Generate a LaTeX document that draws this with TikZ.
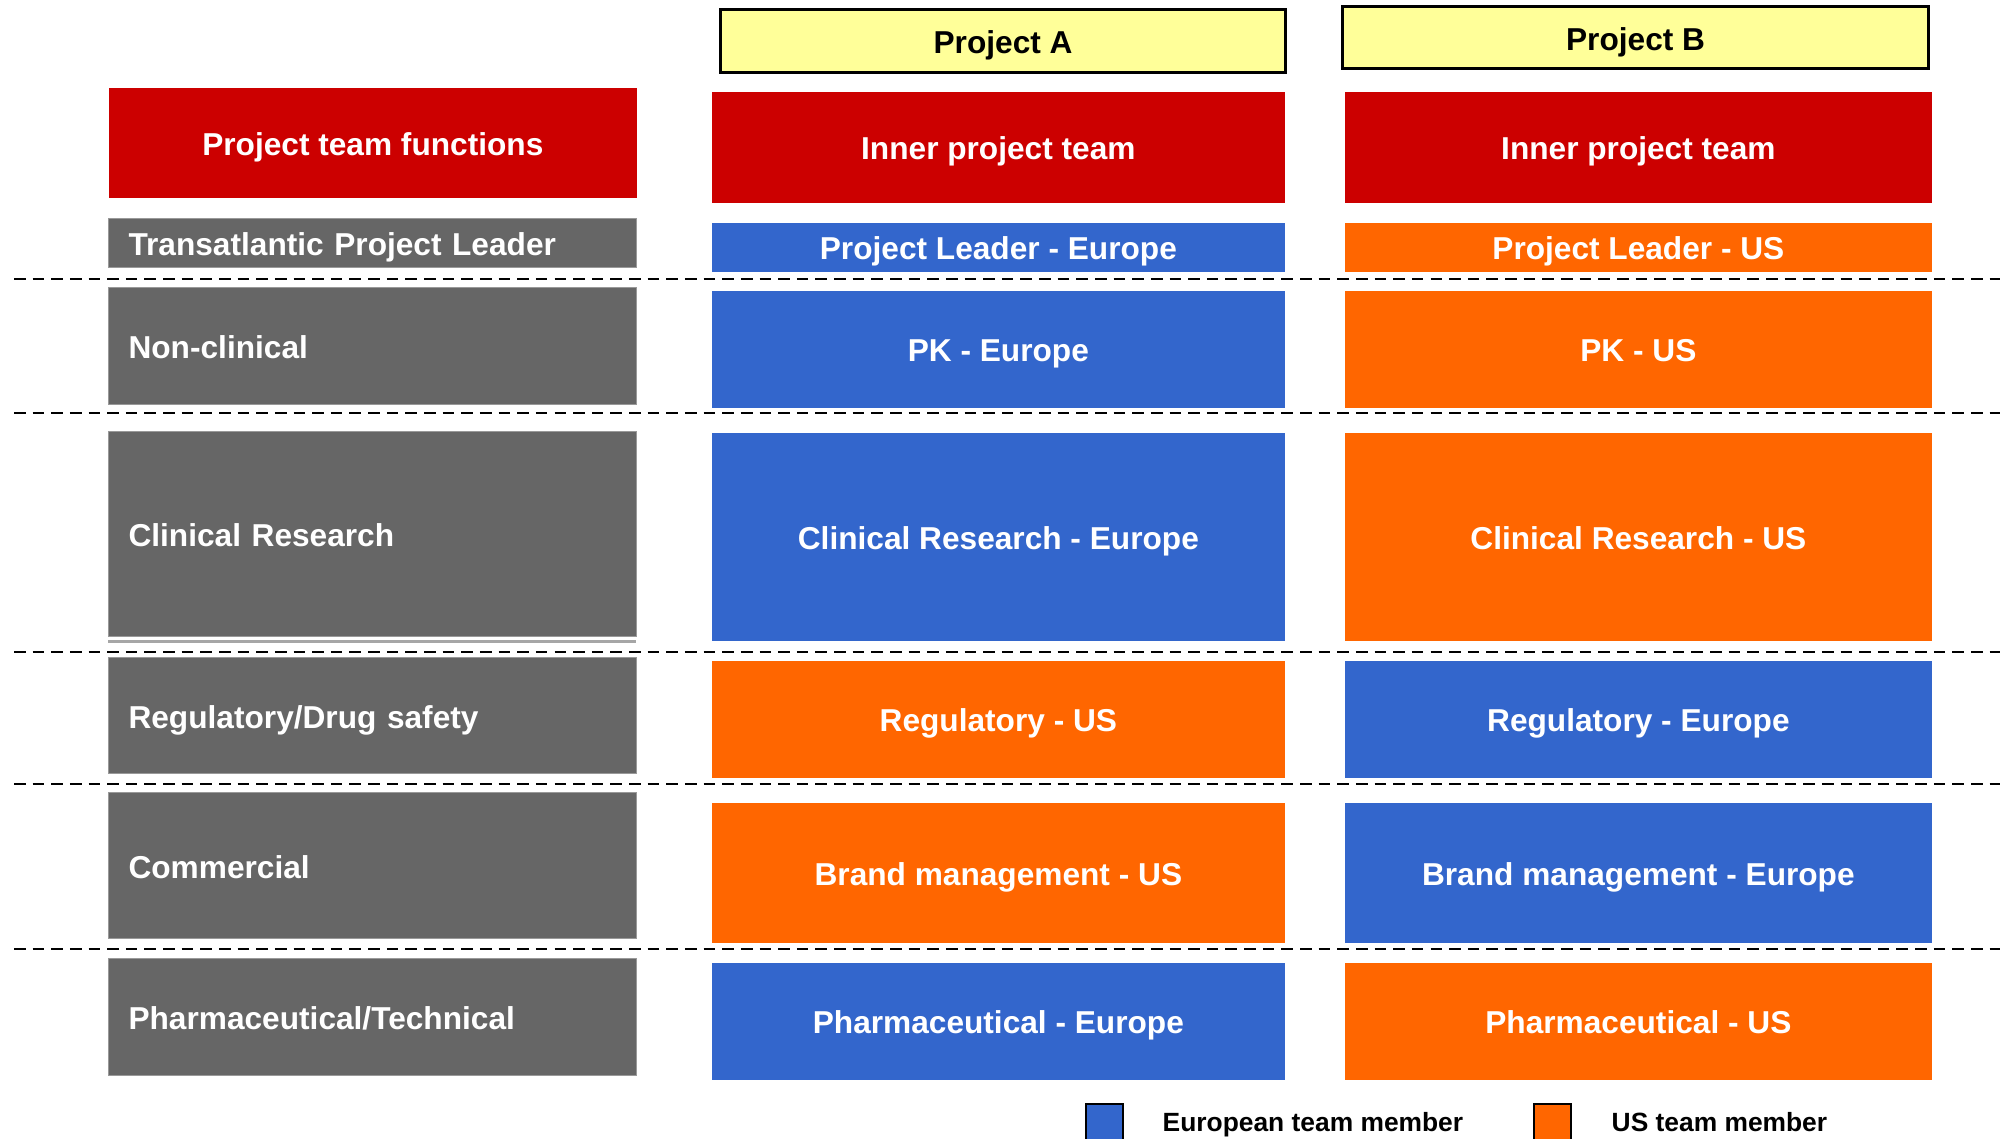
\documentclass[tikz,border=0pt]{standalone}
\usepackage{fontspec}
\setmainfont{Liberation Sans}
\usetikzlibrary{positioning}

\definecolor{fnred}{HTML}{CC0000}
\definecolor{fngray}{HTML}{666666}
\definecolor{eublue}{HTML}{3366CC}
\definecolor{usorange}{HTML}{FF6600}
\definecolor{projyellow}{HTML}{FFFF99}

\tikzset{
  cell/.style={rectangle, inner sep=0pt, anchor=north west, text=white,
    text height=0.9em, text depth=0.18em,
    font=\bfseries\fontsize{9}{11}\selectfont},
  fn/.style={cell, fill=fngray, draw=black!40, line width=0.3pt,
    inner xsep=0.2cm, text width=4.88cm, align=left},
  hd/.style={cell, fill=fnred, align=center},
  eu/.style={cell, fill=eublue, align=center},
  us/.style={cell, fill=usorange, align=center},
  colA/.style={minimum width=5.73cm},
  colB/.style={minimum width=5.87cm},
  proj/.style={cell, fill=projyellow, draw=black, line width=0.8pt, text=black},
  sep/.style={dashed, line width=0.8pt, dash pattern=on 3.3pt off 2pt},
  keybox/.style={rectangle, draw=black, line width=0.6pt, minimum width=0.37cm,
    minimum height=0.40cm, inner sep=0pt, anchor=north west},
  keytext/.style={anchor=base west, inner sep=0pt, font=\bfseries\fontsize{7.5}{9}\selectfont}
}

\begin{document}
\begin{tikzpicture}[x=0.01cm,y=-0.01cm]
   \useasboundingbox (0,0) rectangle (2006,1138);

   % row separators
   \foreach \y in {279,413,652,784,949} {
    \draw[sep] (14,\y) -- (2000,\y);
   }

   % project headers
   \node[proj, minimum width=5.65cm, minimum height=0.63cm] (projA) at (719,8) {Project A};
   \node[proj, minimum width=5.86cm, minimum height=0.62cm] (projB) at (1341,5) {Project B};

   % functions column
   \begin{scope}
    \node[hd, minimum width=5.28cm, minimum height=1.10cm] (functions) at (108,87) {Project team functions};
    \node[fn, minimum height=0.49cm] (leader) at (108,218) {Transatlantic Project Leader};
    \node[fn, minimum height=1.17cm] (nonclin) at (108,287) {Non-clinical};
    \node[fn, minimum height=2.05cm] (clin) at (108,431) {Clinical Research};
    \draw[black!35, line width=0.8pt] (clin.south west) ++(0,4) -- ++(528,0);
    \node[fn, minimum height=1.16cm] (regul) at (108,657) {Regulatory/Drug safety};
    \node[fn, minimum height=1.46cm] (commerc) at (108,792) {Commercial};
    \node[fn, minimum height=1.17cm] (pharm) at (108,958) {Pharmaceutical/Technical};
   \end{scope}

   % project A
   \begin{scope}
    \node[hd, colA, minimum height=1.11cm] (innerA) at (711,91) {Inner project team};
    \node[eu, colA, minimum height=0.49cm] (leaderA) at (711,222) {Project Leader - Europe};
    \node[eu, colA, minimum height=1.17cm] (pkA) at (711,290) {PK - Europe};
    \node[eu, colA, minimum height=2.08cm] (clinA) at (711,432) {Clinical Research - Europe};
    \node[us, colA, minimum height=1.17cm] (regulA) at (711,660) {Regulatory - US};
    \node[us, colA, minimum height=1.40cm] (brandA) at (711,802) {Brand management - US};
    \node[eu, colA, minimum height=1.17cm] (pharmA) at (711,962) {Pharmaceutical - Europe};
   \end{scope}

   % project B
   \begin{scope}
    \node[hd, colB, minimum height=1.11cm] (innerB) at (1344,91) {Inner project team};
    \node[us, colB, minimum height=0.49cm] (leaderB) at (1344,222) {Project Leader - US};
    \node[us, colB, minimum height=1.17cm] (pkB) at (1344,290) {PK - US};
    \node[us, colB, minimum height=2.08cm] (clinB) at (1344,432) {Clinical Research - US};
    \node[eu, colB, minimum height=1.17cm] (regulB) at (1344,660) {Regulatory - Europe};
    \node[eu, colB, minimum height=1.40cm] (brandB) at (1344,802) {Brand management - Europe};
    \node[us, colB, minimum height=1.17cm] (pharmB) at (1344,962) {Pharmaceutical - US};
   \end{scope}

   % legend
   \node[keybox, fill=eublue] (keyeu) at (1085,1103) {};
   \node[keytext] (keyeutext) at (1162,1131) {European team member};
   \node[keybox, fill=usorange] (keyus) at (1533,1103) {};
   \node[keytext] (keyustext) at (1611,1131) {US team member};
  \end{tikzpicture}
\end{document}
